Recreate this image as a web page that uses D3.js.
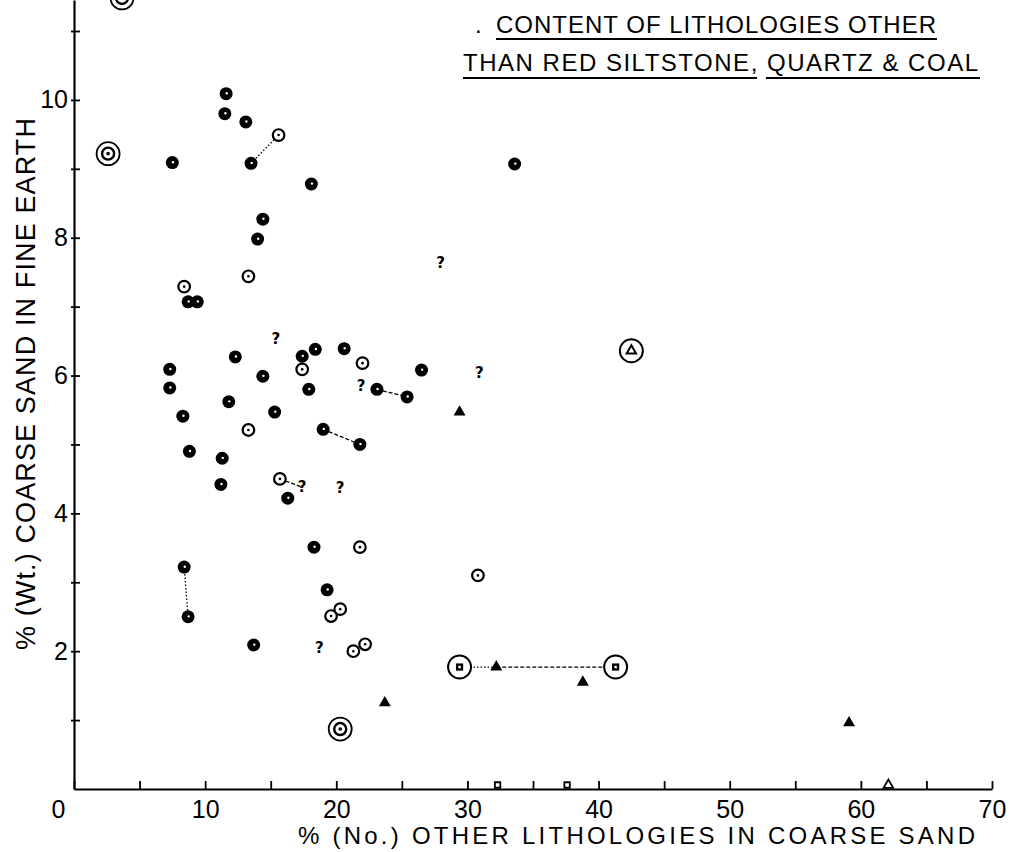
<!DOCTYPE html>
<html><head><meta charset="utf-8">
<script src="https://cdn.jsdelivr.net/npm/d3@7"></script>
<style>body{margin:0;background:#fff} svg{display:block}</style>
</head><body>
<svg id="c" width="1011" height="852"></svg>
<script>
// ---- data (x = % No. other lithologies in coarse sand, y = % Wt. coarse sand in fine earth)
const xTicks = [0,5,10,15,20,25,30,35,40,45,50,55,60,65,70];
const yTicks = [1,2,3,4,5,6,7,8,9,10,11];
const filledCircles = [
  [7.5,9.09],[11.6,10.09],[11.5,9.8],[13.1,9.68],[13.5,9.08],[18.1,8.78],[14.4,8.27],[14.0,7.98],
  [8.7,7.07],[9.4,7.07],[7.3,6.09],[7.3,5.82],[12.3,6.27],[14.4,5.99],[11.8,5.62],[8.3,5.41],
  [15.3,5.47],[8.8,4.9],[11.3,4.8],[11.2,4.42],[16.3,4.22],[18.3,3.51],[17.4,6.28],[18.4,6.38],
  [17.9,5.8],[19.0,5.22],[21.8,5.0],[20.6,6.39],[23.1,5.8],[25.4,5.69],[26.5,6.08],[33.6,9.07],
  [8.4,3.22],[8.7,2.5],[13.7,2.09],[19.3,2.89]
];
const openCircles = [
  [15.6,9.49],[13.3,7.44],[8.4,7.29],[13.3,5.21],[15.7,4.5],[17.4,6.09],[22.0,6.18],[21.8,3.51],
  [19.6,2.51],[20.3,2.61],[30.8,3.1],[21.3,2.0],[22.2,2.1]
];
const doubleCircles = [[3.66,11.48],[2.6,9.22],[20.3,0.87]];
const filledTriangles = [[29.4,5.47],[32.2,1.77],[38.8,1.55],[23.7,1.25],[59.1,0.96]];
const circledTriangles = [[42.5,6.36]];
const circledSquares = [[29.4,1.77],[41.3,1.77]];
const queries = [[15.4,6.53],[27.95,7.63],[21.9,5.85],[30.9,6.04],[17.4,4.38],[20.3,4.37],[18.7,2.05]];
const axisSquares = [32.3,37.6];
const axisOpenTriangles = [62.1];
const dottedLinks = [[[13.5,9.08],[15.6,9.49]],[[8.4,3.22],[8.7,2.5]],[[29.4,1.77],[32.2,1.77]]];
const dashedLinks = [[[15.7,4.5],[17.4,4.38]],[[19.0,5.22],[21.8,5.0]],[[23.1,5.8],[25.4,5.69]],[[32.2,1.77],[41.3,1.77]]];
const titleLines = [". CONTENT OF LITHOLOGIES OTHER", "THAN RED SILTSTONE, QUARTZ & COAL"];
const xTitle = "% (No.) OTHER LITHOLOGIES IN COARSE SAND";
const yTitle = "% (Wt.) COARSE SAND IN FINE EARTH";

const FONT = "'Liberation Sans', Arial, sans-serif";
const svg = d3.select('#c');
svg.append('rect').attr('width',1011).attr('height',852).attr('fill','#fff');

const x = d3.scaleLinear().domain([0,70]).range([74,992]);
const y = d3.scaleLinear().domain([0,11.45]).range([789,0]);

// axes
const gx = svg.append('g').attr('transform',`translate(0,${y(0)})`)
  .call(d3.axisBottom(x).tickValues(xTicks).tickSize(-8).tickSizeOuter(0).tickPadding(11)
    .tickFormat(d => d % 10 === 0 ? d : ''));
const gy = svg.append('g').attr('transform',`translate(${x(0)},0)`)
  .call(d3.axisLeft(y).tickValues(yTicks).tickSize(-6).tickSizeOuter(0).tickPadding(6)
    .tickFormat(d => d % 2 === 0 ? d : ''));
[gx,gy].forEach(g => {
  g.select('.domain').attr('stroke','#000').attr('stroke-width',2.2);
  g.selectAll('.tick line').attr('stroke','#000').attr('stroke-width',1.8);
  g.selectAll('.tick text').attr('font-family',FONT).attr('font-size',25).attr('fill','#000');
});
gy.selectAll('.tick line').attr('x1',-3);
gx.selectAll('.tick').filter(d => d === 0).select('text').attr('x',-16);

// links
const lineGen = d3.line().x(d => x(d[0])).y(d => y(d[1]));
svg.append('g').selectAll('path').data(dottedLinks).join('path')
  .attr('d', lineGen).attr('fill','none').attr('stroke','#000').attr('stroke-width',1.3)
  .attr('stroke-dasharray','1.5,2');
svg.append('g').selectAll('path').data(dashedLinks).join('path')
  .attr('d', lineGen).attr('fill','none').attr('stroke','#000').attr('stroke-width',1.3)
  .attr('stroke-dasharray','4,2');

// filled circles
const gf = svg.append('g').selectAll('g').data(filledCircles).join('g')
  .attr('transform', d => `translate(${x(d[0])},${y(d[1])})`);
gf.append('circle').attr('r',6.5).attr('fill','#000');
gf.append('circle').attr('r',1.2).attr('cx',0.6).attr('cy',-0.4).attr('fill','#fff');

// open circles with dot
const go = svg.append('g').selectAll('g').data(openCircles).join('g')
  .attr('transform', d => `translate(${x(d[0])},${y(d[1])})`);
go.append('circle').attr('r',5.8).attr('fill','#fff').attr('stroke','#000').attr('stroke-width',2.2);
go.append('circle').attr('r',1.3).attr('fill','#000');

// double circles
const gd = svg.append('g').selectAll('g').data(doubleCircles).join('g')
  .attr('transform', d => `translate(${x(d[0])},${y(d[1])})`);
gd.append('circle').attr('r',11.5).attr('fill','#fff').attr('stroke','#000').attr('stroke-width',1.8);
gd.append('circle').attr('r',6).attr('fill','#fff').attr('stroke','#000').attr('stroke-width',2.4);
gd.append('circle').attr('r',1.8).attr('fill','#000');

// filled triangles
svg.append('g').selectAll('path').data(filledTriangles).join('path')
  .attr('transform', d => `translate(${x(d[0])},${y(d[1])})`)
  .attr('d', d3.symbol(d3.symbolTriangle, 62)).attr('fill','#000');

// circled triangles
const gt = svg.append('g').selectAll('g').data(circledTriangles).join('g')
  .attr('transform', d => `translate(${x(d[0])},${y(d[1])})`);
gt.append('circle').attr('r',11.5).attr('fill','#fff').attr('stroke','#000').attr('stroke-width',2);
gt.append('path').attr('d', d3.symbol(d3.symbolTriangle, 38)).attr('fill','#fff').attr('stroke','#000').attr('stroke-width',2);

// circled squares
const gs = svg.append('g').selectAll('g').data(circledSquares).join('g')
  .attr('transform', d => `translate(${x(d[0])},${y(d[1])})`);
gs.append('circle').attr('r',11.5).attr('fill','#fff').attr('stroke','#000').attr('stroke-width',2);
gs.append('path').attr('d', d3.symbol(d3.symbolSquare, 52)).attr('fill','#000');
gs.append('path').attr('d', d3.symbol(d3.symbolSquare, 6)).attr('fill','#fff');

// question marks
svg.append('g').selectAll('text').data(queries).join('text')
  .attr('x', d => x(d[0])).attr('y', d => y(d[1]))
  .attr('text-anchor','middle').attr('dominant-baseline','central')
  .attr('font-family',"'DejaVu Sans', sans-serif").attr('font-weight','bold').attr('font-size',15)
  .attr('fill','#000').text('?');

// marks on the x axis
svg.append('g').selectAll('path').data(axisSquares).join('path')
  .attr('transform', d => `translate(${x(d)},${y(0)-4})`)
  .attr('d', d3.symbol(d3.symbolSquare, 30)).attr('fill','#fff').attr('stroke','#000').attr('stroke-width',1.8);
svg.append('g').selectAll('path').data(axisOpenTriangles).join('path')
  .attr('transform', d => `translate(${x(d)},${y(0)-4})`)
  .attr('d', d3.symbol(d3.symbolTriangle, 40)).attr('fill','#fff').attr('stroke','#000').attr('stroke-width',1.8);

// axis titles
svg.append('text').attr('x',298).attr('y',844).attr('textLength',677).attr('lengthAdjust','spacing')
  .attr('font-family',FONT).attr('font-size',24).attr('fill','#000').text(xTitle);
svg.append('text').attr('transform','translate(35,650) rotate(-90)')
  .attr('textLength',532).attr('lengthAdjust','spacing')
  .attr('font-family',FONT).attr('font-size',27).attr('fill','#000').text(yTitle);

// title
svg.append('text').attr('x',475).attr('y',33).attr('font-family',FONT).attr('font-size',24).attr('fill','#000').text('.');
svg.append('text').attr('x',496).attr('y',33).attr('textLength',440).attr('lengthAdjust','spacing')
  .attr('font-family',FONT).attr('font-size',24).attr('fill','#000').text(titleLines[0].slice(2));
svg.append('text').attr('x',463).attr('y',71).attr('textLength',515).attr('lengthAdjust','spacing')
  .attr('font-family',FONT).attr('font-size',24).attr('fill','#000').text(titleLines[1]);
const ul = [[496,937,39],[463,757,78],[766,980,78]];
svg.append('g').selectAll('line').data(ul).join('line')
  .attr('x1',d=>d[0]).attr('x2',d=>d[1]).attr('y1',d=>d[2]).attr('y2',d=>d[2])
  .attr('stroke','#000').attr('stroke-width',2);
</script>
</body></html>
